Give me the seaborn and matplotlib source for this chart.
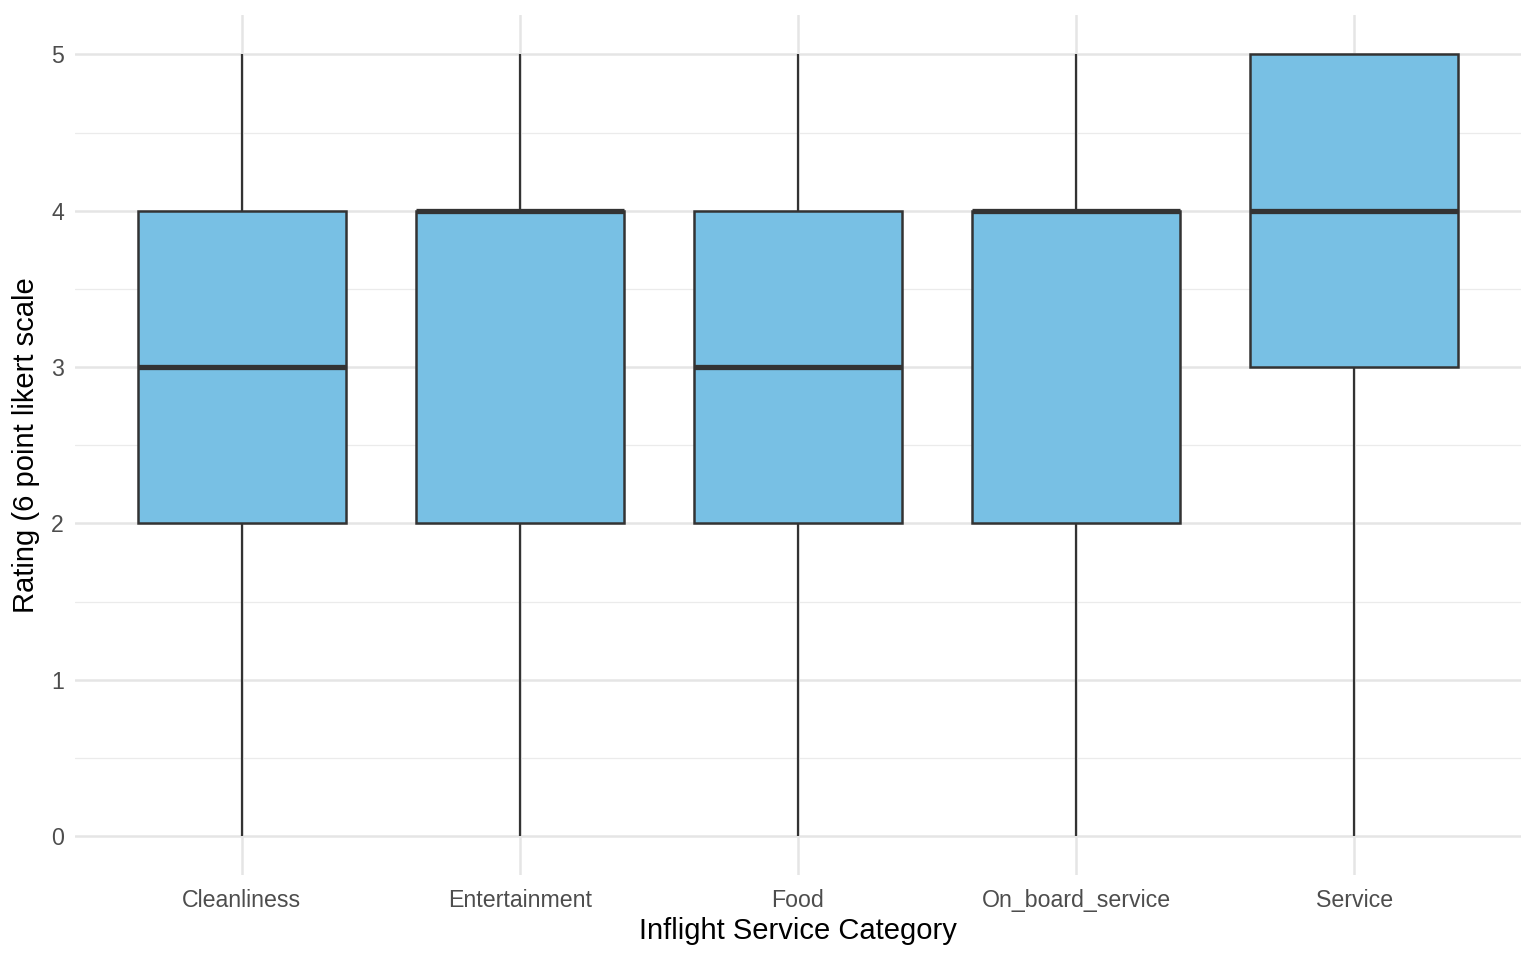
import numpy as np
import pandas as pd
import matplotlib
matplotlib.use("Agg")
import matplotlib.pyplot as plt
from matplotlib.ticker import MultipleLocator
import seaborn as sns

# rating frequencies (0..5) per inflight service category
ratings = [0, 1, 2, 3, 4, 5]
categories = ["Cleanliness", "Entertainment", "Food", "On_board_service", "Service"]
counts = {
    "Cleanliness":      [5, 15, 20, 25, 25, 10],
    "Entertainment":    [3, 12, 17, 15, 33, 20],
    "Food":             [5, 14, 22, 24, 22, 13],
    "On_board_service": [4, 11, 15, 18, 32, 20],
    "Service":          [3, 7, 12, 20, 28, 30],
}

rows = []
for cat in categories:
    for r, n in zip(ratings, counts[cat]):
        rows += [(cat, r)] * n
df = pd.DataFrame(rows, columns=["category", "rating"])

sns.set_theme(style="white")
plt.rcParams["font.family"] = ["Liberation Sans", "DejaVu Sans"]

fig = plt.figure(figsize=(15.36, 9.6), dpi=100)
ax = fig.add_axes([0.0488, 0.0885, 0.9414, 0.8955])

sns.boxplot(data=df, x="category", y="rating", order=categories, ax=ax,
            color="#78C0E4", saturation=1, width=0.75, linecolor="#333333",
            linewidth=1.8, showcaps=False, fliersize=0, whis=1.5,
            medianprops={"linewidth": 3.8, "color": "#333333"},
            whiskerprops={"linewidth": 1.6, "color": "#333333"})

ax.set_xlim(-0.6, 4.6)
ax.set_ylim(-0.25, 5.25)
ax.yaxis.set_major_locator(MultipleLocator(1))
ax.yaxis.set_minor_locator(MultipleLocator(0.5))
ax.grid(which="major", axis="both", color="#E5E5E5", linewidth=1.8)
ax.grid(which="minor", axis="y", color="#EBEBEB", linewidth=0.9)
ax.set_axisbelow(True)
for sp in ax.spines.values():
    sp.set_visible(False)

ax.tick_params(axis="both", which="both", length=0, labelsize=16.7,
               labelcolor="#4D4D4D")
ax.tick_params(axis="x", pad=10)
ax.tick_params(axis="y", pad=8)
ax.set_xlabel("Inflight Service Category", fontsize=21, color="black", labelpad=4)
ax.set_ylabel("Rating (6 point likert scale", fontsize=21, color="black", labelpad=8)

fig.savefig("out.png", dpi=100, facecolor="white")
